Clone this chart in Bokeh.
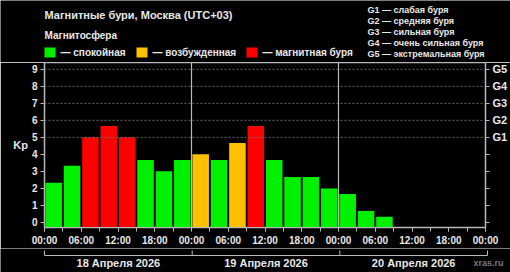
from bokeh.plotting import figure
from bokeh.layouts import column
from bokeh.models import FixedTicker, LinearAxis, Span, Range1d
from bokeh.core.properties import value
from bokeh.embed import file_html
from bokeh.resources import INLINE

# ---- data ----
kp_values = [2.33, 3.33, 5.0, 5.67, 5.0, 3.67, 3.0, 3.67,
             4.0, 3.67, 4.67, 5.67, 3.67, 2.67, 2.67, 2.0,
             1.67, 0.67, 0.33]
slot_hours = 3
day_labels = ["18 Апреля 2026", "19 Апреля 2026", "20 Апреля 2026"]
g_labels = ["G1", "G2", "G3", "G4", "G5"]
g_levels = [5, 6, 7, 8, 9]
g_legend = ["G1 — слабая буря", "G2 — средняя буря", "G3 — сильная буря",
            "G4 — очень сильная буря", "G5 — экстремальная буря"]
state_names = ["— спокойная", "— возбужденная", "— магнитная буря"]
state_colors = ["#00f000", "#ffc000", "#ff0000"]
title_text = "Магнитные бури, Москва (UTC+03)"
subtitle_text = "Магнитосфера"
source_text = "xras.ru"

def state_of(v):
    if v < 4:
        return 0
    if v < 5:
        return 1
    return 2

FONT = "Liberation Sans"
TXT = "#e8e8e8"
GRAY = "#b8b8b8"

W = 510
HEAD_H, MAIN_H, FOOT_H = 62, 186, 24
L, R = 44, 487
MAIN_BOTTOM = 21
XMIN, XMAX = 0, 72
YMIN, YMAX = -0.3, 9.4

def hx(px):
    return XMIN + (px - L) * (XMAX - XMIN) / (R - L)

def blank_fig(h, xr, yr):
    f = figure(width=W, height=h, output_backend="svg", toolbar_location=None,
               x_range=xr, y_range=yr, x_axis_location=None, y_axis_location=None,
               min_border=0, min_border_left=0, min_border_right=0,
               min_border_top=0, min_border_bottom=0)
    f.frame_align = False
    f.background_fill_color = "black"
    f.border_fill_color = "black"
    f.outline_line_color = None
    f.xgrid.visible = False
    f.ygrid.visible = False
    return f

def txt(f, xs, ys, texts, size, color=TXT, align="left", bold=True):
    f.text(x=xs, y=ys, text=texts, text_font=value(FONT), text_font_size=size,
           text_color=color, text_align=align, text_baseline="middle",
           text_font_style="bold" if bold else "normal")

# ---------- header ----------
head = blank_fig(HEAD_H, Range1d(0, W), Range1d(HEAD_H, 0))
txt(head, [44], [14], [title_text], "11px")
txt(head, [44], [34.5], [subtitle_text], "10px")
sq_x = [44, 136, 246]
head.quad(left=sq_x, right=[s + 11 for s in sq_x], top=[47] * 3, bottom=[57] * 3,
          fill_color=state_colors, line_color=None)
txt(head, [s + 16 for s in sq_x], [51.5] * 3, state_names, "10px")
txt(head, [367] * len(g_legend), [9.5 + i * 10.9 for i in range(len(g_legend))], g_legend, "9px")

# ---------- main chart ----------
p = figure(width=W, height=MAIN_H, output_backend="svg", toolbar_location=None,
           x_range=Range1d(XMIN, XMAX), y_range=Range1d(YMIN, YMAX),
           x_axis_location=None, y_axis_location=None,
           min_border_left=L, min_border_right=W - R,
           min_border_top=0, min_border_bottom=MAIN_BOTTOM)
p.frame_align = False
p.background_fill_color = "black"
p.border_fill_color = "black"
p.outline_line_color = GRAY
p.outline_line_width = 1.5
p.xgrid.visible = False
p.ygrid.visible = False

xs = [i * slot_hours + slot_hours / 2 for i in range(len(kp_values))]
cols = [state_colors[state_of(v)] for v in kp_values]
p.vbar(x=xs, top=kp_values, bottom=YMIN, width=slot_hours * 0.9, fill_color=cols, line_color=None)

for lv in g_levels:
    p.add_layout(Span(location=lv, dimension="width", line_color="#6a6a6a",
                      line_dash="2 2", line_width=1))
for d in range(1, len(day_labels)):
    p.add_layout(Span(location=d * 24, dimension="height", line_color=GRAY, line_width=1.2))

def style_axis(ax, size="10px"):
    ax.axis_line_color = GRAY
    ax.major_tick_line_color = GRAY
    ax.minor_tick_line_color = GRAY
    ax.major_label_text_color = TXT
    ax.major_label_text_font = FONT
    ax.major_label_text_font_style = "bold"
    ax.major_label_text_font_size = size

ly = LinearAxis(ticker=FixedTicker(ticks=list(range(10)), minor_ticks=[]))
style_axis(ly)
ly.major_tick_in = 0
ly.major_tick_out = 4
ly.major_label_standoff = 3
ly.axis_label = "Kp"
ly.axis_label_orientation = "horizontal"
ly.axis_label_text_color = TXT
ly.axis_label_text_font = FONT
ly.axis_label_text_font_style = "bold"
ly.axis_label_text_font_size = "11px"
ly.axis_label_standoff = 1
p.add_layout(ly, "left")

ry = LinearAxis(ticker=FixedTicker(ticks=list(range(10)), minor_ticks=[]))
style_axis(ry, "11px")
ry.major_tick_in = 0
ry.major_tick_out = 4
ry.major_label_standoff = 3
ry.major_label_overrides = {i: (g_labels[g_levels.index(i)] if i in g_levels else "") for i in range(10)}
p.add_layout(ry, "right")

hours = list(range(0, 73, 6))
xa = LinearAxis(ticker=FixedTicker(ticks=hours, minor_ticks=list(range(0, 73, 3))))
style_axis(xa)
xa.major_tick_in = 0
xa.major_tick_out = 4
xa.minor_tick_in = 0
xa.minor_tick_out = 4
xa.major_label_standoff = 3
xa.major_label_overrides = {h: "%02d:00" % (h % 24) for h in hours}
p.add_layout(xa, "below")

# ---------- footer: day brackets ----------
foot = blank_fig(FOOT_H, Range1d(hx(0), hx(W)), Range1d(HEAD_H + MAIN_H + FOOT_H, HEAD_H + MAIN_H))
bounds = [d * 24 for d in range(len(day_labels) + 1)]
foot.line(x=[bounds[0], bounds[-1]], y=[255, 255], line_color=GRAY, line_width=1)
foot.segment(x0=bounds, y0=[255] * len(bounds), x1=bounds, y1=[250] * len(bounds),
             line_color=GRAY, line_width=1)
mids = [b + 12 for b in bounds[:-1]]
txt(foot, mids, [262] * len(mids), day_labels, "11px", align="center")
txt(foot, [hx(503)], [262], [source_text], "9px", color="#7a7a7a", align="right")

layout = column(head, p, foot, spacing=0)
open("out.html", "w").write(file_html(layout, INLINE))
